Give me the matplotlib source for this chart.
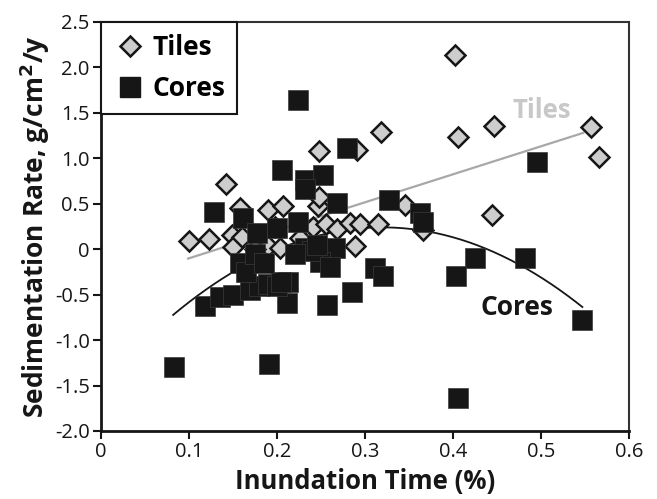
import numpy as np
import matplotlib
matplotlib.use("Agg")
import matplotlib.pyplot as plt
from matplotlib.lines import Line2D

plt.rcParams['font.family'] = ['Open Sans', 'DejaVu Sans']

# ---- data ----
tiles_x = [0.100, 0.123, 0.142, 0.149, 0.150, 0.158, 0.160, 0.190, 0.190, 0.203,
           0.207, 0.248, 0.247, 0.248, 0.241, 0.256, 0.268, 0.283, 0.294, 0.289,
           0.291, 0.318, 0.315, 0.345, 0.366, 0.402, 0.406, 0.447, 0.444, 0.557,
           0.566, 0.175, 0.198, 0.226]
tiles_y = [0.09, 0.11, 0.72, 0.16, 0.02, 0.45, 0.13, 0.43, 0.03, 0.01,
           0.47, 1.08, 0.47, 0.57, 0.24, 0.28, 0.22, 0.29, 0.28, 0.04,
           1.09, 1.29, 0.28, 0.49, 0.21, 2.14, 1.23, 1.35, 0.38, 1.34,
           1.01, 0.00, 0.24, 0.12]

cores_x = [0.083, 0.191, 0.406, 0.224, 0.280, 0.496, 0.128, 0.206, 0.232, 0.252,
           0.232, 0.268, 0.327, 0.362, 0.366, 0.161, 0.177, 0.200, 0.224, 0.232,
           0.266, 0.249, 0.213, 0.311, 0.320, 0.285, 0.257, 0.211, 0.118, 0.135,
           0.150, 0.158, 0.169, 0.180, 0.190, 0.200, 0.205, 0.425, 0.482, 0.403,
           0.547, 0.165, 0.175, 0.185, 0.240, 0.245, 0.220, 0.260]
cores_y = [-1.30, -1.26, -1.64, 1.64, 1.11, 0.96, 0.41, 0.87, 0.76, 0.82,
           0.66, 0.51, 0.54, 0.40, 0.30, 0.34, 0.18, 0.23, 0.30, 0.01,
           0.01, -0.14, -0.36, -0.21, -0.29, -0.47, -0.61, -0.59, -0.62, -0.53,
           -0.50, -0.15, -0.45, -0.40, -0.38, -0.40, -0.36, -0.10, -0.10, -0.30,
           -0.78, -0.25, -0.05, -0.15, -0.02, 0.05, -0.05, -0.20]

# trend lines (as drawn in the figure)
tiles_fit = (3.08, -0.408)          # slope, intercept
tiles_fit_range = (0.099, 0.548)
cores_fit = (-17.0, 0.32, 0.24)     # a, vertex x, vertex y
cores_fit_range = (0.082, 0.547)

x_ticks = [0, 0.1, 0.2, 0.3, 0.4, 0.5, 0.6]
x_ticklabels = ['0', '0.1', '0.2', '0.3', '0.4', '0.5', '0.6']
y_ticks = [-2.0, -1.5, -1.0, -0.5, 0, 0.5, 1.0, 1.5, 2.0, 2.5]
y_ticklabels = ['-2.0', '-1.5', '-1.0', '-0.5', '0', '0.5', '1.0', '1.5', '2.0', '2.5']

# ---- figure ----
fig = plt.figure(figsize=(6.57, 4.99), dpi=100)
ax = fig.add_axes([0.1537, 0.1363, 0.8037, 0.8197])

tile_face = '#cdcdcd'
dark = '#161616'

xx = np.linspace(*tiles_fit_range, 50)
ax.plot(xx, tiles_fit[0] * xx + tiles_fit[1], color='#a8a8a8', lw=1.6, zorder=1)
xc = np.linspace(*cores_fit_range, 200)
ax.plot(xc, cores_fit[0] * (xc - cores_fit[1]) ** 2 + cores_fit[2], color=dark, lw=1.3, zorder=1)

ax.plot(tiles_x, tiles_y, linestyle='none', marker='D', ms=10.5, mfc=tile_face,
        mec=dark, mew=1.8, zorder=3)
ax.plot(cores_x, cores_y, linestyle='none', marker='s', ms=14.5, mfc=dark,
        mec='#3a3a3a', mew=0.5, zorder=4)

ax.text(0.501, 1.53, 'Tiles', color='#c8c8c8', fontsize=18.5, fontweight='bold',
        ha='center', va='center', zorder=5)
ax.text(0.473, -0.64, 'Cores', color=dark, fontsize=19, fontweight='bold',
        ha='center', va='center', zorder=5)

ax.set_xlim(0, 0.6)
ax.set_ylim(-2.0, 2.5)
ax.set_xticks(x_ticks)
ax.set_xticklabels(x_ticklabels)
ax.set_yticks(y_ticks)
ax.set_yticklabels(y_ticklabels)
ax.tick_params(direction='out', length=6, width=1.5, labelsize=14.5, color=dark, labelcolor=dark, pad=2)

for side in ['left', 'bottom']:
    ax.spines[side].set_linewidth(2)
    ax.spines[side].set_color(dark)
for side in ['top', 'right']:
    ax.spines[side].set_linewidth(1.5)
    ax.spines[side].set_color('#333333')

ax.set_xlabel('Inundation Time (%)', fontsize=18.5, fontweight='bold', color=dark, labelpad=4)
ax.set_ylabel('Sedimentation Rate, g/cm$^\\mathbf{2}$/y', fontsize=19, fontweight='bold', color=dark, labelpad=2)

handles = [Line2D([], [], linestyle='none', marker='D', ms=10.5, mfc=tile_face, mec=dark, mew=1.8),
           Line2D([], [], linestyle='none', marker='s', ms=14.5, mfc=dark, mec=dark)]
leg = ax.legend(handles, ['Tiles', 'Cores'], loc='upper left', borderaxespad=0,
                prop={'weight': 'bold', 'size': 19}, fancybox=False, framealpha=1,
                edgecolor=dark, handletextpad=0.2, handlelength=1.3, borderpad=0.45,
                labelspacing=0.55)
leg.get_frame().set_linewidth(1.5)

fig.savefig('out.png', dpi=100)
